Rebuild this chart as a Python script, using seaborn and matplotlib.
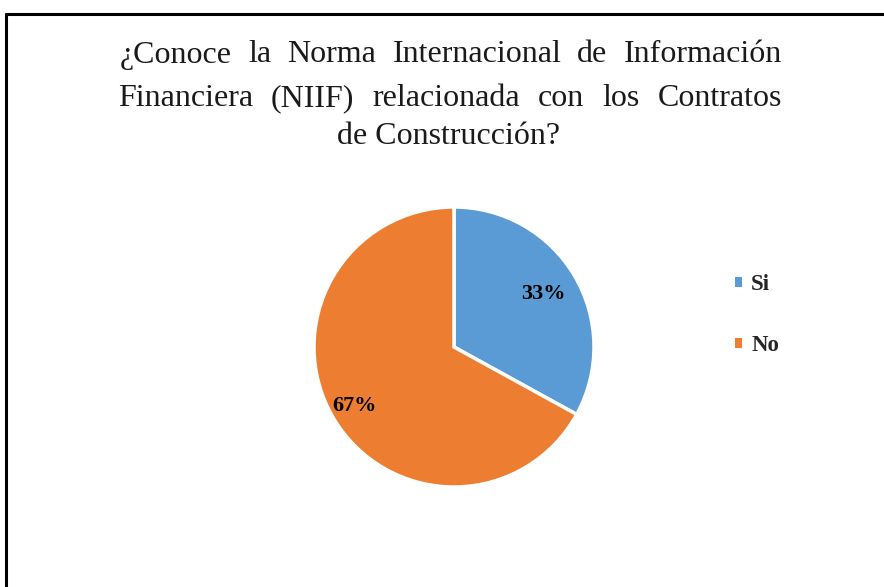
import matplotlib
matplotlib.use("Agg")
import matplotlib.pyplot as plt
import seaborn as sns
import numpy as np
from matplotlib.lines import Line2D
from matplotlib.patches import Patch

categories = ["Si", "No"]
values = [33, 67]
colors = ["#5B9BD5", "#ED7D31"]
title_lines = ["¿Conoce la Norma Internacional de Información",
               "Financiera (NIIF) relacionada con los Contratos",
               "de Construcción?"]

sns.set_theme(style="white")
plt.rcParams['font.family'] = ['Liberation Serif', 'DejaVu Serif']

W, H = 884, 587
fig = plt.figure(figsize=(W / 100, H / 100), dpi=100)
fig.patch.set_facecolor("white")

# border lines (top and left)
fig.add_artist(Line2D([6 / W, 1.0], [1 - 14 / H, 1 - 14 / H], color="black", lw=2.2))
fig.add_artist(Line2D([6 / W, 6 / W], [0, 1 - 14 / H], color="black", lw=2.2))

# title (justified lines 1 and 2, centered last line)
renderer = fig.canvas.get_renderer()
tsize = 23
ys = [55, 99, 137]
justify = [(120, 782), (118, 782), None]
for line, y, jus in zip(title_lines, ys, justify):
    if jus is None:
        fig.text(449 / W, 1 - y / H, line, ha="center", va="center", fontsize=tsize, color="#1a1a1a")
        continue
    words = line.split(" ")
    widths = []
    for wd in words:
        t = fig.text(0, 0, wd, fontsize=tsize)
        widths.append(t.get_window_extent(renderer).width)
        t.remove()
    gap = (jus[1] - jus[0] - sum(widths)) / (len(words) - 1)
    x = jus[0]
    for wd, wi in zip(words, widths):
        fig.text(x / W, 1 - y / H, wd, ha="left", va="center", fontsize=tsize, color="#1a1a1a")
        x += wi + gap

cx, cy, r = 454, 347, 140
ax = fig.add_axes([(cx - r) / W, (H - cy - r) / H, 2 * r / W, 2 * r / H])
wedges, texts, autotexts = ax.pie(values, colors=colors, startangle=90, counterclock=False,
                                  autopct="%1.0f%%", pctdistance=0.78,
                                  wedgeprops=dict(edgecolor="white", linewidth=2.5),
                                  textprops=dict(fontsize=16, fontweight="bold", color="black"))
ax.set_xlim(-1, 1)
ax.set_ylim(-1, 1)
ax.set_aspect("auto")
ax.axis("off")

dists = [0.74, 0.83]
for w, t, d in zip(wedges, autotexts, dists):
    ang = np.deg2rad((w.theta1 + w.theta2) / 2)
    t.set_position((d * np.cos(ang), d * np.sin(ang)))

handles = [Patch(facecolor=c, edgecolor="none") for c in colors]
fig.legend(handles, categories, loc="center left", bbox_to_anchor=(714 / W, 1 - 315 / H),
           frameon=False, handlelength=0.32, handleheight=0.32, handletextpad=0.4,
           labelspacing=1.75, prop=dict(size=16.5, weight="bold"))

fig.savefig("out.png", dpi=100, facecolor="white")
